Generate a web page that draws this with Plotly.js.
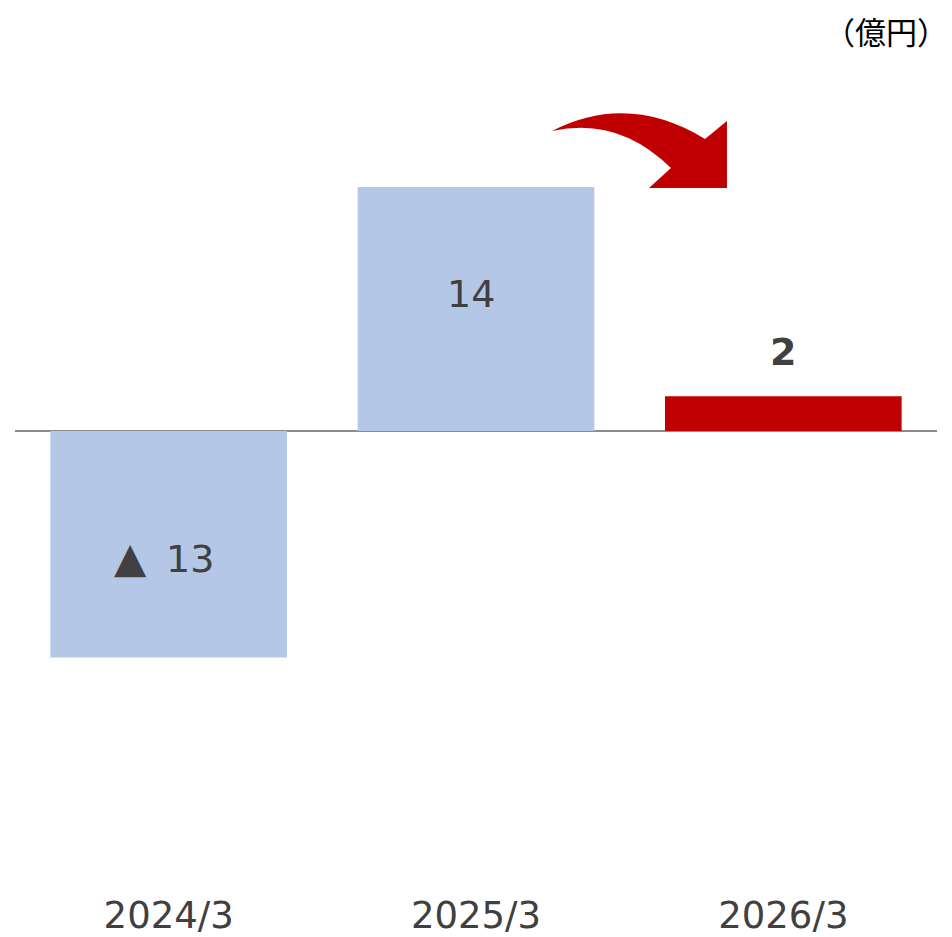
<!DOCTYPE html>
<html>
<head>
<meta charset="utf-8">
<script src="https://cdn.plot.ly/plotly-3.0.1.min.js"></script>
<style>
  html, body { margin: 0; padding: 0; background: #fff; }
  #graphDiv { width: 952px; height: 937px; }
</style>
</head>
<body>
<div id="graphDiv"></div>
<script>
// datos
const years = ['2024/3', '2025/3', '2026/3'];
const values = [-13, 14, 2];
const labels = ['▲ 13', '14', '2'];
const barColors = ['#B4C7E7', '#B4C7E7', '#C00000'];
const unitLabel = '（億円）';

// area del grafico (px)
const L = 15, R = 15, T = 80, B = 47;
const W = 952, H = 937;
const plotW = W - L - R;
const plotH = H - T - B;

function px2paper(x, y) {
    return [((x - L) / plotW).toFixed(4), ((H - B - y) / plotH).toFixed(4)];
}

// flecha curva roja
function arrowPath() {
    let pts = [
        ['M', 552, 131], ['Q', 628, 92], ['', 705, 139],
        ['L', 727, 121], ['L', 727, 188], ['L', 649, 188], ['L', 671, 168],
        ['Q', 618, 116], ['', 552, 131]
    ];
    let d = '';
    for (let i = 0; i < pts.length; i++) {
        let p = px2paper(pts[i][1], pts[i][2]);
        d += pts[i][0] + ' ' + p[0] + ',' + p[1] + ' ';
    }
    return d + 'Z';
}

var bars = {
    x: years,
    y: values,
    type: 'bar',
    marker: { color: barColors, line: { width: 0 } },
    hoverinfo: 'skip'
};

var labelFont = { family: 'DejaVu Sans, Verdana, sans-serif', size: 38, color: '#404040' };
var annotations = [];
for (let i = 0; i < years.length; i++) {
    let txt = labels[i];
    if (txt.indexOf('▲') === 0) {
        // triangulo un poco mas grande y separado
        txt = '<span style="font-size:42px">▲</span>\u2009' + txt.slice(1);
    }
    if (i < 2) {
        annotations.push({
            x: years[i], y: values[i] * 0.56, xref: 'x', yref: 'y',
            text: txt, showarrow: false, xshift: -5,
            font: labelFont
        });
    } else {
        annotations.push({
            x: years[i], y: values[i], xref: 'x', yref: 'y',
            text: '<b>' + txt + '</b>', showarrow: false,
            yanchor: 'bottom', yshift: 20,
            font: labelFont
        });
    }
}
// unidad, arriba a la derecha
let u = px2paper(950, 30);
annotations.push({
    x: u[0], y: u[1], xref: 'paper', yref: 'paper', xanchor: 'right', yanchor: 'middle',
    text: unitLabel, showarrow: false,
    font: { family: 'Noto Sans CJK JP, sans-serif', size: 31, color: '#000' }
});

// escala: 14 -> 244 px, cero en y=431
const pxPerUnit = 244 / 14;
const yBottom = -(H - B - 431) / pxPerUnit;
const yTop = (431 - T) / pxPerUnit;

var layout = {
    width: W, height: H,
    margin: { l: L, r: R, t: T, b: B },
    paper_bgcolor: '#fff', plot_bgcolor: '#fff',
    showlegend: false,
    bargap: 0.23,
    xaxis: {
        type: 'category',
        showgrid: false, zeroline: false, showline: false,
        ticks: '',
        tickfont: { family: 'DejaVu Sans, Verdana, sans-serif', size: 37, color: '#404040' }
    },
    yaxis: {
        range: [yBottom, yTop],
        showgrid: false, showticklabels: false, ticks: '',
        zeroline: true, zerolinecolor: '#8c8c8c', zerolinewidth: 2
    },
    annotations: annotations,
    shapes: [{
        type: 'path', xref: 'paper', yref: 'paper',
        path: arrowPath(),
        fillcolor: '#C00000', line: { width: 0 }
    }]
};

Plotly.newPlot('graphDiv', [bars], layout, { displayModeBar: false, staticPlot: true });
</script>
</body>
</html>
